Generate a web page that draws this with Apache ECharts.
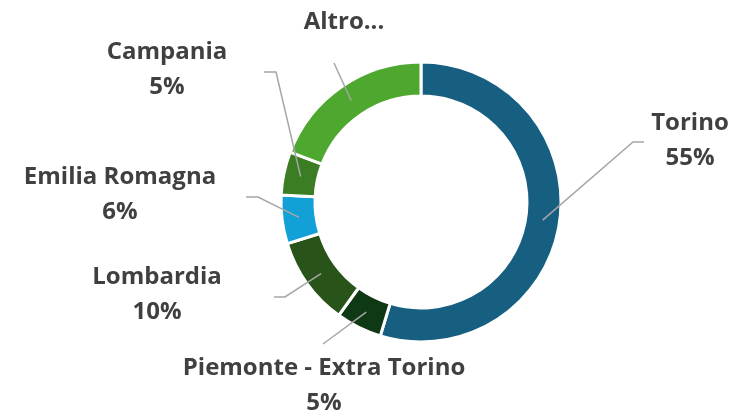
<!DOCTYPE html>
<html>
<head>
<meta charset="utf-8">
<script src="https://cdn.jsdelivr.net/npm/echarts@6/dist/echarts.min.js"></script>
<style>
html,body{margin:0;padding:0;background:#fff;}
#chart{width:729px;height:415px;}
</style>
</head>
<body>
<div id="chart"></div>
<script>
// ---- data ----
const categories = ['Torino', 'Piemonte - Extra Torino', 'Lombardia', 'Emilia Romagna', 'Campania', 'Altro...'];
const shares = [54.7, 5.3, 10.2, 5.6, 5.0, 19.2];
const colors = ['#175F81', '#0F3914', '#285419', '#12A0D7', '#3A7D22', '#4EA72E'];

// ---- layout (not data) ----
const CX = 421, CY = 202, R0 = 106, R1 = 140;
const labelPos = [
  { x: 690, y: 141, line: [[633, 142], [644, 142]] },
  { x: 324, y: 386, line: [[323, 344]] },
  { x: 157, y: 295, line: [[285, 297], [274, 297]] },
  { x: 120, y: 195, line: [[258, 197], [246, 197]] },
  { x: 167, y: 70,  line: [[276, 72], [264, 72]] },
  { x: 344, y: 22,  line: [[334, 63]] }
];

const total = shares.reduce((a, b) => a + b, 0);
function midPoint(i) {
  let before = 0;
  for (let k = 0; k < i; k++) before += shares[k];
  const frac = (before + shares[i] / 2) / total;
  const ang = frac * Math.PI * 2;
  const rm = (R0 + R1) / 2;
  return [CX + rm * Math.sin(ang), CY - rm * Math.cos(ang)];
}

const base = {
  type: 'pie',
  center: [CX, CY],
  radius: [R0, R1],
  startAngle: 90,
  clockwise: true,
  percentPrecision: 0,
  avoidLabelOverlap: false
};

const chart = echarts.init(document.getElementById('chart'));
chart.setOption({
  animation: false,
  series: [
    Object.assign({}, base, {
      z: 1,
      itemStyle: { borderColor: '#ffffff', borderWidth: 3 },
      label: { show: false },
      labelLine: { show: false },
      data: categories.map((name, i) => ({ name: name, value: shares[i], itemStyle: { color: colors[i] } }))
    }),
    Object.assign({}, base, {
      z: 5,
      silent: true,
      itemStyle: { color: 'rgba(0,0,0,0)', borderWidth: 0 },
      label: {
        show: true,
        fontFamily: '"Open Sans", sans-serif',
        fontWeight: 'bold',
        fontSize: 24,
        lineHeight: 35,
        color: '#404040',
        formatter: p => p.dataIndex === categories.length - 1 ? p.name : p.name + '\n' + p.percent + '%'
      },
      labelLine: {
        show: true,
        length: 10,
        length2: 10,
        lineStyle: { color: '#A6A6A6', width: 1.5 }
      },
      labelLayout: params => {
        const lp = labelPos[params.dataIndex];
        return {
          x: lp.x,
          y: lp.y,
          align: 'center',
          verticalAlign: 'middle',
          hideOverlap: false,
          labelLinePoints: [midPoint(params.dataIndex)].concat(lp.line.length === 1 ? [lp.line[0], lp.line[0]] : lp.line)
        };
      },
      data: categories.map((name, i) => ({ name: name, value: shares[i] }))
    })
  ]
});
</script>
</body>
</html>
